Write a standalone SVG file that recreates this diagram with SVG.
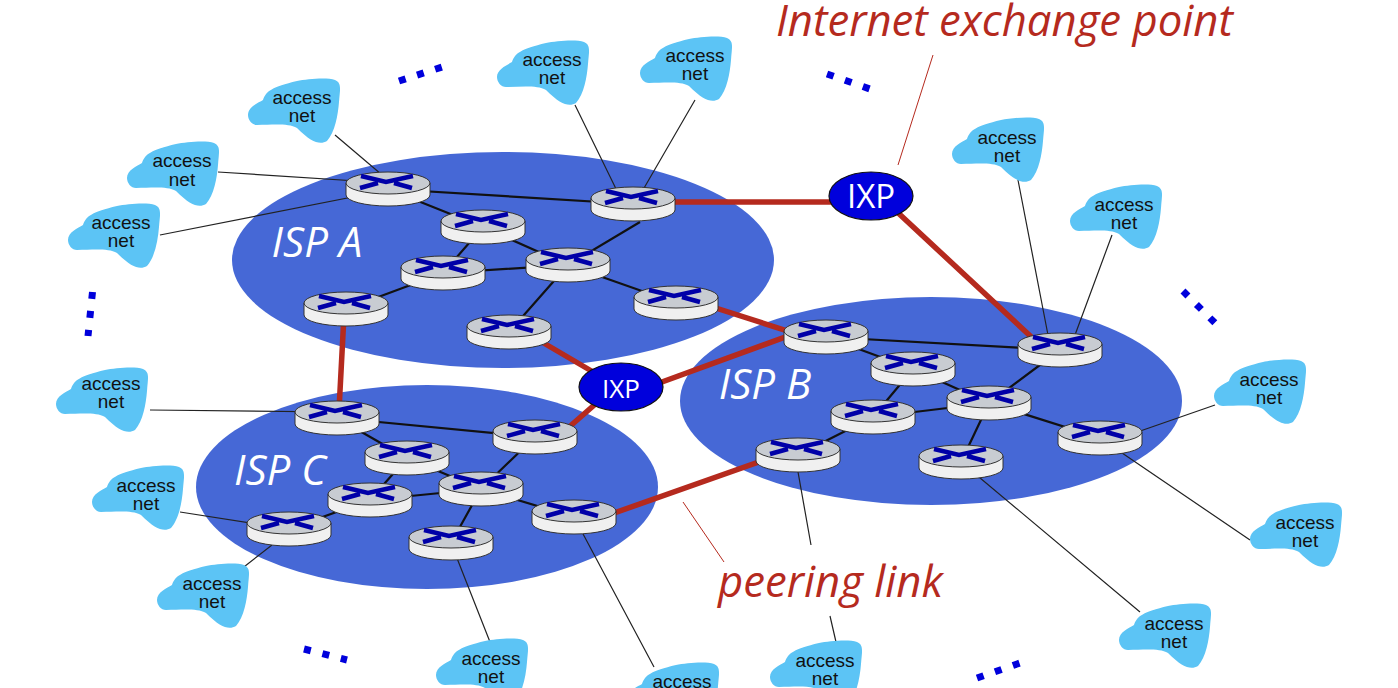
<svg xmlns="http://www.w3.org/2000/svg" width="1398" height="688" viewBox="0 0 1398 688">
<style>
.isp{fill:#4668d6}
.thin{stroke:#222;stroke-width:1.2;fill:none}
.core{stroke:#111;stroke-width:2.2;fill:none}
.peer{stroke:#b52a1e;stroke-width:5.5;fill:none}
.lead{stroke:#b52a1e;stroke-width:1;fill:none}
.cloud{fill:#5cc4f5}
.an{font-family:"Liberation Sans",Arial,sans-serif;font-size:19px;fill:#111;text-anchor:middle}
.ixp{fill:#0000dc;stroke:#111;stroke-width:1.2}
.ixpt{font-family:"Open Sans",sans-serif;font-size:33px;fill:#fff;text-anchor:middle}
.ispt{font-family:"Open Sans",sans-serif;font-style:italic;font-size:42px;fill:#fff;text-anchor:middle}
.call{font-family:"Open Sans",sans-serif;font-style:italic;font-size:43.7px;fill:#b52a1e}
.dots{stroke:#0000dc;stroke-width:7;stroke-dasharray:7 12;fill:none}
.bar{stroke:#0000a8;stroke-width:4.5;fill:none}
</style>
<defs>
<g id="router">
<path d="M-42,-6V6A42,11 0 0 0 42,6V-6Z" fill="#f0f0f0" stroke="#333" stroke-width="1"/>
<ellipse cx="0" cy="-6" rx="42" ry="11" fill="#c8ccd2" stroke="#333" stroke-width="1"/>
<path class="bar" d="M-27,-13L-2,-7L25,-13M-28,-1L-10,-6M6,-6L24,-1"/>
</g>
<path id="cl" class="cloud" d="M-54,8C-54,0-44,-4-39,-7C-36,-16-30,-20-5,-26C5,-28 25,-30 33,-27C40,-24 38,-18 37,-5C36,8 33,25 25,34C18,38 10,36 -5,21C-14,16-30,18-45,18C-50,18-54,13-54,8Z"/>
</defs>
<rect width="1398" height="688" fill="#fff"/>
<g id="isps">
<ellipse class="isp" cx="503" cy="260" rx="271" ry="108"/>
<ellipse class="isp" cx="931" cy="401" rx="251" ry="104"/>
<ellipse class="isp" cx="427" cy="487" rx="231" ry="102"/>
</g>
<g id="connectors">
<path class="thin" d="M335,135L388,180M218,172L388,183M160,235L388,190M575,105L619,195M695,100L640,195M1018,180L1048,335M1112,235L1075,335M1215,405L1100,445M1250,540L1100,438M1140,612L961,462M795,455L811,545M830,616L836,642M574,517L654,667M451,543L490,642M272,545L240,570M180,512L289,529M150,410L337,412"/>
<path class="core" d="M388,189L633,204M388,189L483,227M483,227L443,273M443,273L346,309M443,273L568,265M483,227L568,265M568,265L640,222M568,265L676,303M568,265L509,332"/>
<path class="core" d="M826,337L1060,350M826,337L913,369M913,369L873,417M873,417L798,455M873,417L989,403M913,369L989,403M989,403L1060,350M989,403L1100,438M989,403L961,462"/>
<path class="core" d="M337,418L535,437M337,418L407,458M407,458L370,500M370,500L289,529M370,500L481,489M407,458L481,489M481,489L535,437M481,489L574,517M481,489L451,543"/>
<path class="peer" d="M660,202L840,202M895,210L1040,345M700,303L800,335M530,335L600,376M640,390L810,328M344,315L339,410M560,435L600,400M600,518L770,458"/>
<path class="lead" d="M933,55L898,165M683,502L724,562"/>
</g>
<g id="routers">
<use id="ra1" href="#router" x="388" y="189"/><use id="ra2" href="#router" x="483" y="227"/><use id="ra3" href="#router" x="443" y="273"/><use id="ra4" href="#router" x="346" y="309"/><use id="ra5" href="#router" x="568" y="265"/><use id="ra6" href="#router" x="633" y="204"/><use id="ra7" href="#router" x="676" y="303"/><use id="ra8" href="#router" x="509" y="332"/>
<use id="rb1" href="#router" x="826" y="337"/><use id="rb2" href="#router" x="913" y="369"/><use id="rb3" href="#router" x="873" y="417"/><use id="rb4" href="#router" x="798" y="455"/><use id="rb5" href="#router" x="989" y="403"/><use id="rb6" href="#router" x="1060" y="350"/><use id="rb7" href="#router" x="1100" y="438"/><use id="rb8" href="#router" x="961" y="462"/>
<use id="rc1" href="#router" x="337" y="418"/><use id="rc2" href="#router" x="535" y="437"/><use id="rc3" href="#router" x="407" y="458"/><use id="rc4" href="#router" x="370" y="500"/><use id="rc5" href="#router" x="481" y="489"/><use id="rc6" href="#router" x="289" y="529"/><use id="rc7" href="#router" x="574" y="517"/><use id="rc8" href="#router" x="451" y="543"/>
</g>
<g id="ixp1"><ellipse class="ixp" cx="871" cy="196" rx="42" ry="24"/><text class="ixpt" x="871" y="208">IXP</text></g>
<g id="ixp2"><ellipse class="ixp" cx="621" cy="387" rx="42" ry="24"/><text class="ixpt" x="621" y="398" style="font-size:26px">IXP</text></g>
<g id="cloud1"><use href="#cl" x="302" y="107"/><text class="an" y="104"><tspan x="302">access</tspan><tspan x="302" dy="18">net</tspan></text></g>
<g id="cloud2"><use href="#cl" x="181" y="170"/><text class="an" y="167"><tspan x="182">access</tspan><tspan x="182" dy="19">net</tspan></text></g>
<g id="cloud3"><use href="#cl" x="122" y="232"/><text class="an" y="229"><tspan x="121">access</tspan><tspan x="121" dy="18">net</tspan></text></g>
<g id="cloud4"><use href="#cl" x="551" y="69"/><text class="an" y="66"><tspan x="552">access</tspan><tspan x="552" dy="18">net</tspan></text></g>
<g id="cloud5"><use href="#cl" x="694" y="65"/><text class="an" y="62"><tspan x="695">access</tspan><tspan x="695" dy="18">net</tspan></text></g>
<g id="cloud6"><use href="#cl" x="1006" y="146"/><text class="an" y="144"><tspan x="1007">access</tspan><tspan x="1007" dy="18">net</tspan></text></g>
<g id="cloud7"><use href="#cl" x="1124" y="213"/><text class="an" y="211"><tspan x="1124">access</tspan><tspan x="1124" dy="18">net</tspan></text></g>
<g id="cloud8"><use href="#cl" x="1268" y="388"/><text class="an" y="386"><tspan x="1269">access</tspan><tspan x="1269" dy="18">net</tspan></text></g>
<g id="cloud9"><use href="#cl" x="1304" y="531"/><text class="an" y="529"><tspan x="1305">access</tspan><tspan x="1305" dy="18">net</tspan></text></g>
<g id="cloud10"><use href="#cl" x="1173" y="632"/><text class="an" y="630"><tspan x="1174">access</tspan><tspan x="1174" dy="18">net</tspan></text></g>
<g id="cloud11"><use href="#cl" x="824" y="669"/><text class="an" y="667"><tspan x="825">access</tspan><tspan x="825" dy="18">net</tspan></text></g>
<g id="cloud12"><use href="#cl" x="681" y="691"/><text class="an" x="682" y="688">access</text></g>
<g id="cloud13"><use href="#cl" x="490" y="667"/><text class="an" y="665"><tspan x="491">access</tspan><tspan x="491" dy="18">net</tspan></text></g>
<g id="cloud14"><use href="#cl" x="211" y="592"/><text class="an" y="590"><tspan x="212">access</tspan><tspan x="212" dy="18">net</tspan></text></g>
<g id="cloud15"><use href="#cl" x="146" y="494"/><text class="an" y="492"><tspan x="146">access</tspan><tspan x="146" dy="18">net</tspan></text></g>
<g id="cloud16"><use href="#cl" x="110" y="396"/><text class="an" y="390"><tspan x="111">access</tspan><tspan x="111" dy="18">net</tspan></text></g>
<g id="labels">
<text class="ispt" x="317" y="257">ISP A</text>
<text class="ispt" x="765" y="399">ISP B</text>
<text class="ispt" x="280" y="485">ISP C</text>
<text class="call" x="776" y="36">Internet exchange point</text>
<text class="call" x="718" y="597">peering link</text>
</g>
<g id="dotrows" class="dots">
<path d="M399,81L442,67"/>
<path d="M827,74L870,89"/>
<path d="M1183,291L1216,324"/>
<path d="M92.500,292L88,336"/>
<path d="M304,649L347,660"/>
<path d="M977,678L1020,663"/>
</g>
</svg>
